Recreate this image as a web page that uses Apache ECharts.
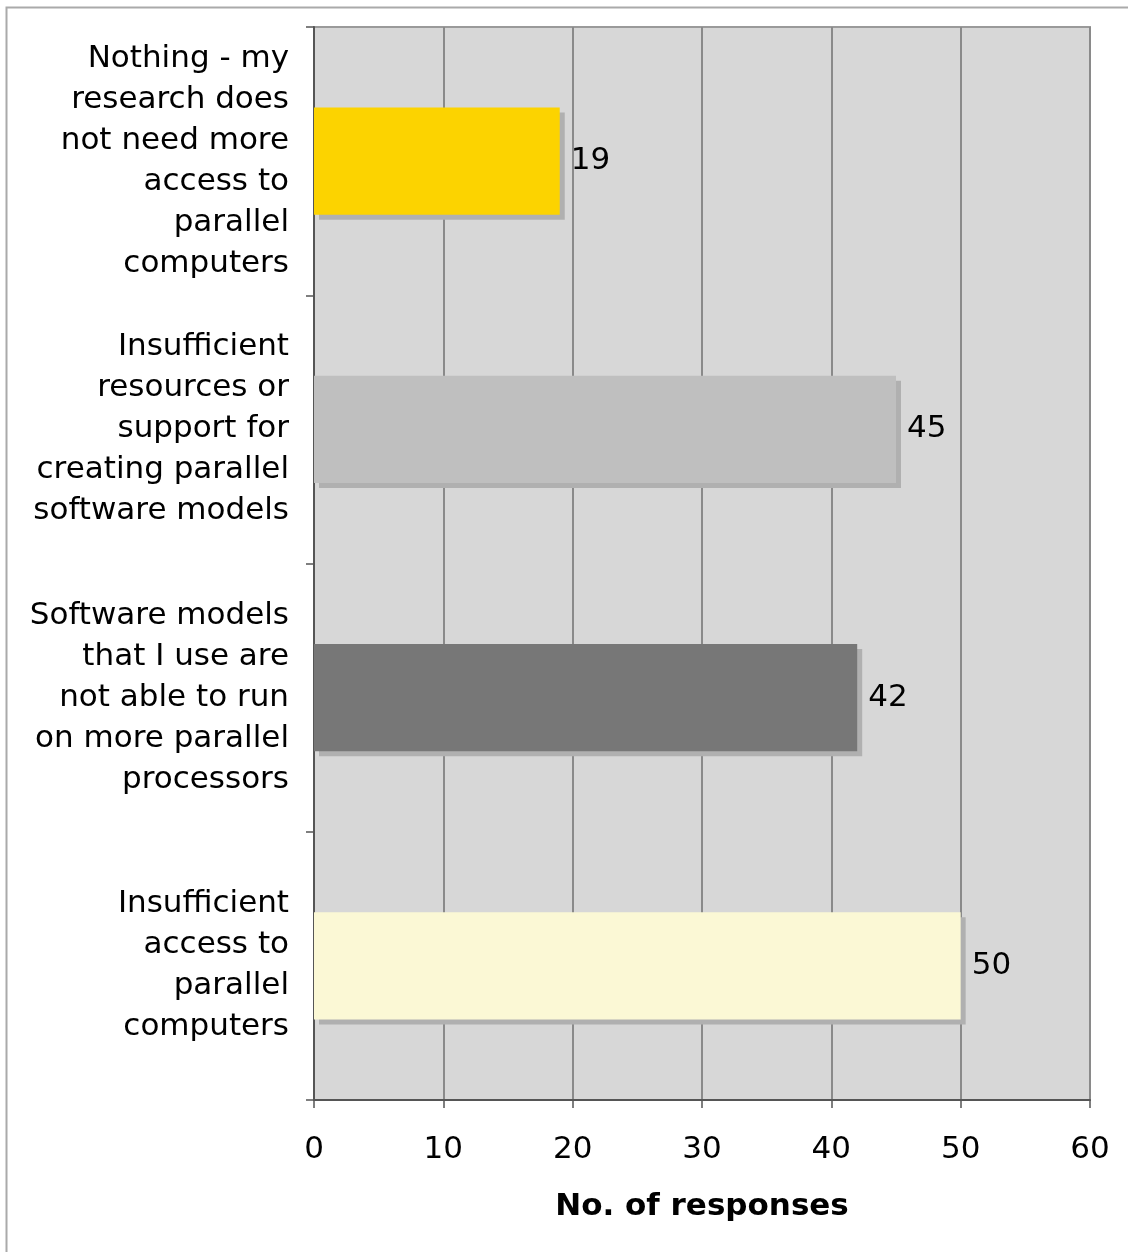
<!DOCTYPE html>
<html>
<head>
<meta charset="utf-8">
<script src="https://cdn.jsdelivr.net/npm/echarts@6/dist/echarts.min.js"></script>
<style>html,body{margin:0;padding:0;background:#fff;}#c{width:1128px;height:1252px;}</style>
</head>
<body>
<div id="c"></div>
<script>
const categories = [
  "Nothing - my\nresearch does\nnot need more\naccess to\nparallel\ncomputers",
  "Insufficient\nresources or\nsupport for\ncreating parallel\nsoftware models",
  "Software models\nthat I use are\nnot able to run\non more parallel\nprocessors",
  "Insufficient\naccess to\nparallel\ncomputers"
];
const values = [19, 45, 42, 50];
const barColors = ["#fcd300", "#bfbfbf", "#777777", "#fbf8d5"];
const xTicks = [0, 10, 20, 30, 40, 50, 60];
const axisTitle = "No. of responses";

const FONT = "DejaVu Sans";
const chart = echarts.init(document.getElementById('c'));
chart.setOption({
  animation: false,
  backgroundColor: '#ffffff',
  graphic: [{
    type: 'rect', left: 4, top: 5, z: -10,
    shape: { x: 0, y: 0, width: 1300, height: 1400 },
    style: { fill: 'none', stroke: '#aaaaaa', lineWidth: 2 }
  }],
  grid: {
    left: 314, right: 38, top: 27, bottom: 152,
    show: true, backgroundColor: '#d7d7d7', borderColor: '#9a9a9a', borderWidth: 2
  },
  xAxis: {
    type: 'value', min: xTicks[0], max: xTicks[xTicks.length - 1], interval: 10,
    axisLine: { show: true, lineStyle: { color: '#555', width: 2 } },
    axisTick: { show: true, length: 8, lineStyle: { color: '#555', width: 1.5 } },
    splitLine: { show: true, lineStyle: { color: '#8a8a8a', width: 2 } },
    axisLabel: { fontFamily: FONT, fontSize: 31, color: '#000', margin: 34 },
    name: axisTitle, nameLocation: 'middle', nameGap: 91,
    nameTextStyle: { fontFamily: FONT, fontSize: 31, fontWeight: 'bold', color: '#000' }
  },
  yAxis: {
    type: 'category', data: categories, inverse: true,
    axisLine: { show: true, lineStyle: { color: '#555', width: 2 } },
    axisTick: { show: true, length: 8, lineStyle: { color: '#555', width: 1.5 } },
    splitLine: { show: false },
    axisLabel: { fontFamily: FONT, fontSize: 31, lineHeight: 41, color: '#000', margin: 25, align: 'right' }
  },
  series: [{
    type: 'bar',
    data: values.map((v, i) => ({ value: v, itemStyle: { color: barColors[i] } })),
    barCategoryGap: '60%',
    itemStyle: { shadowColor: '#b0b0b0', shadowOffsetX: 5, shadowOffsetY: 5, shadowBlur: 0 },
    label: { show: true, position: 'right', distance: 11, fontFamily: FONT, fontSize: 31, color: '#000' }
  }]
});
</script>
</body>
</html>
